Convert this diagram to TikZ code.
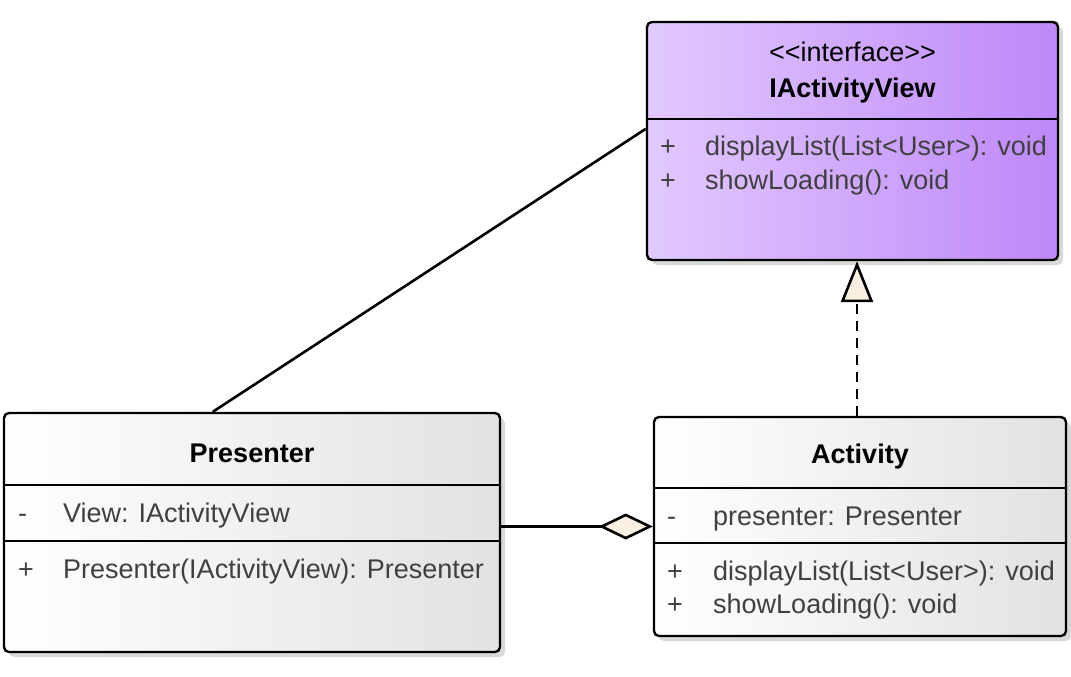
\documentclass[tikz,border=0pt]{standalone}
\usepackage{fontspec}
\setmainfont{Liberation Sans}
\usetikzlibrary{arrows.meta,shadows}
\definecolor{linen}{RGB}{250,240,226}
\definecolor{lilacl}{RGB}{226,201,255}
\definecolor{lilacm}{RGB}{213,178,254}
\definecolor{lilacd}{RGB}{190,136,248}
\definecolor{greyd}{RGB}{226,226,226}
\definecolor{membertxt}{RGB}{64,64,64}

\begin{document}
\begin{tikzpicture}[x=1pt,y=-1pt]
 	\tikzstyle{cls}=[rectangle, rounded corners=5pt, line width=2.4pt, draw=black, inner sep=0pt, drop shadow={shadow xshift=5pt, shadow yshift=-5pt, fill=black!15, opacity=1}]
 	\tikzstyle{sep}=[line width=2pt]
 	\tikzstyle{title}=[inner sep=0pt, anchor=base, font=\fontsize{27}{34}\selectfont\bfseries]
 	\tikzstyle{member}=[inner sep=0pt, anchor=base west, text=membertxt, font=\fontsize{27}{34}\selectfont]
 	\tikzstyle{connect}=[line width=2.6pt]
 	\useasboundingbox (0,0) rectangle (1071,677);
 	% class boxes
 	\node[cls, minimum width=411pt, minimum height=238pt, left color=lilacl, middle color=lilacm, right color=lilacd] (view) at (852.5,141) {};
 	\node[cls, minimum width=496pt, minimum height=239pt, left color=white, right color=greyd] (pres) at (252,532.5) {};
 	\node[cls, minimum width=412pt, minimum height=219pt, left color=white, right color=greyd] (act) at (860,526.5) {};
 	\draw[sep] (view.west |- 0,119) -- (view.east |- 0,119);
 	\draw[sep] (pres.west |- 0,485) -- (pres.east |- 0,485);
 	\draw[sep] (pres.west |- 0,541) -- (pres.east |- 0,541);
 	\draw[sep] (act.west |- 0,488) -- (act.east |- 0,488);
 	\draw[sep] (act.west |- 0,543) -- (act.east |- 0,543);
 	% IActivityView
 	\node[title, font=\fontsize{27}{34}\selectfont] (vstereo) at (view.north |- 0,62) {<\kern0pt<interface>\kern0pt>};
 	\node[title] (vname) at (view.north |- 0,97) {IActivityView};
 	\node[member] (vsig1) at (660,155) {+};
 	\node[member] (vop1) at (705,155) {displayList(List<User>): void};
 	\node[member] (vsig2) at (660,189) {+};
 	\node[member] (vop2) at (705,189) {showLoading(): void};
 	% Presenter
 	\node[title] (pname) at (pres.north |- 0,462) {Presenter};
 	\node[member] (psig1) at (18,522) {-};
 	\node[member] (pattr) at (63,522) {View: IActivityView};
 	\node[member] (psig2) at (18,578) {+};
 	\node[member] (pop) at (63,578) {Presenter(IActivityView): Presenter};
 	% Activity
 	\node[title] (aname) at (act.north |- 0,463) {Activity};
 	\node[member] (asig1) at (667,525) {-};
 	\node[member] (aattr) at (713,525) {presenter: Presenter};
 	\node[member] (asig2) at (667,580) {+};
 	\node[member] (aop1) at (713,580) {displayList(List<User>): void};
 	\node[member] (asig3) at (667,613) {+};
 	\node[member] (aop2) at (713,613) {showLoading(): void};
 	% relations
 	\draw[connect] ([xshift=210pt]pres.north west) -- ([yshift=-108pt]view.north west);
 	\draw[connect, -{Diamond[fill=linen, length=54pt, width=26pt]}] (pres.east |- act.west) -- (act.west);
 	\draw[connect, dash pattern=on 10pt off 7pt, -{Triangle[fill=linen, length=41pt, width=32pt]}] ([xshift=-3pt]act.north) -- ([xshift=-3pt]act.north |- view.south);
\end{tikzpicture}
\end{document}
